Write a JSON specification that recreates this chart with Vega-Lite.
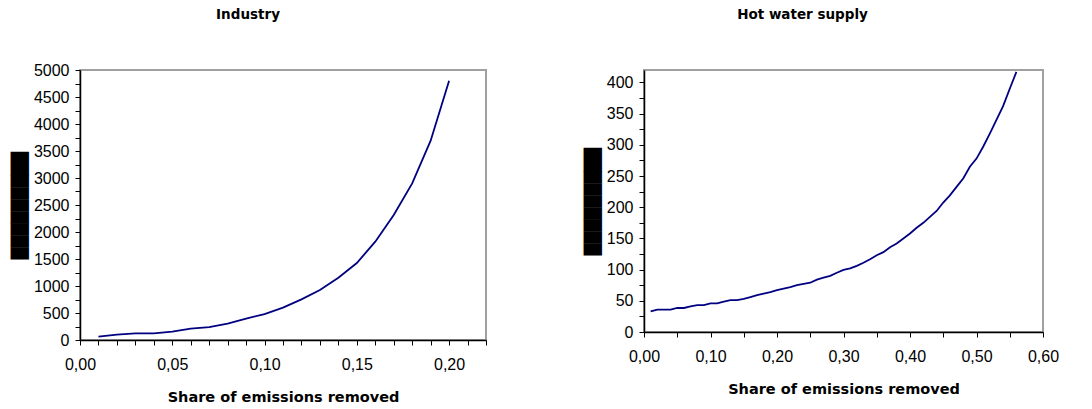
{
  "$schema": "https://vega.github.io/schema/vega-lite/v6.json",
  "padding": {"left": 11, "top": 6, "right": 0, "bottom": 0},
  "background": "white",
  "config": {
    "view": {"stroke": "#a0a0a0", "strokeWidth": 2},
    "axis": {"labelFont": "Liberation Sans", "labelFontSize": 16, "labelColor": "black", "domainColor": "black", "domainWidth": 1.5, "tickColor": "black", "tickSize": 5, "tickWidth": 1, "grid": false, "labelOverlap": false, "titleColor": "black"},
    "axisX": {"labelFlush": false, "labelPadding": 11, "titleFont": "DejaVu Sans", "titleFontSize": 14.5, "titleFontWeight": "bold", "titlePadding": 18},
    "axisY": {"labelPadding": 6, "titleFont": "DejaVu Sans", "titleFontSize": 15.5, "titleFontWeight": "normal", "titlePadding": 6},
    "title": {"font": "DejaVu Sans", "fontSize": 13.5, "fontWeight": "bold", "color": "black"},
    "concat": {"spacing": 96}
  },
  "datasets": {
    "industry": [
      {"share": 0.01, "cost": 62},
      {"share": 0.02, "cost": 99},
      {"share": 0.03, "cost": 123},
      {"share": 0.04, "cost": 123},
      {"share": 0.05, "cost": 154},
      {"share": 0.06, "cost": 210},
      {"share": 0.07, "cost": 240},
      {"share": 0.08, "cost": 302},
      {"share": 0.09, "cost": 395},
      {"share": 0.10, "cost": 481},
      {"share": 0.11, "cost": 599},
      {"share": 0.12, "cost": 753},
      {"share": 0.13, "cost": 926},
      {"share": 0.14, "cost": 1154},
      {"share": 0.15, "cost": 1425},
      {"share": 0.16, "cost": 1821},
      {"share": 0.17, "cost": 2315},
      {"share": 0.18, "cost": 2900},
      {"share": 0.19, "cost": 3691},
      {"share": 0.20, "cost": 4800}
    ],
    "hotwater": [
      {"share": 0.01, "cost": 33},
      {"share": 0.02, "cost": 36},
      {"share": 0.03, "cost": 36},
      {"share": 0.04, "cost": 36},
      {"share": 0.05, "cost": 38.5},
      {"share": 0.06, "cost": 38.5},
      {"share": 0.07, "cost": 41},
      {"share": 0.08, "cost": 43},
      {"share": 0.09, "cost": 43},
      {"share": 0.10, "cost": 46},
      {"share": 0.11, "cost": 46},
      {"share": 0.12, "cost": 48.7},
      {"share": 0.13, "cost": 51},
      {"share": 0.14, "cost": 51},
      {"share": 0.15, "cost": 53},
      {"share": 0.16, "cost": 56},
      {"share": 0.17, "cost": 59},
      {"share": 0.18, "cost": 61.5},
      {"share": 0.19, "cost": 64},
      {"share": 0.20, "cost": 67},
      {"share": 0.21, "cost": 69.5},
      {"share": 0.22, "cost": 72},
      {"share": 0.23, "cost": 75},
      {"share": 0.24, "cost": 77},
      {"share": 0.25, "cost": 79},
      {"share": 0.26, "cost": 84},
      {"share": 0.27, "cost": 87},
      {"share": 0.28, "cost": 90},
      {"share": 0.29, "cost": 95},
      {"share": 0.30, "cost": 99.5},
      {"share": 0.31, "cost": 102},
      {"share": 0.32, "cost": 106},
      {"share": 0.33, "cost": 111},
      {"share": 0.34, "cost": 116.5},
      {"share": 0.35, "cost": 123},
      {"share": 0.36, "cost": 128},
      {"share": 0.37, "cost": 136},
      {"share": 0.38, "cost": 142},
      {"share": 0.39, "cost": 150},
      {"share": 0.40, "cost": 158},
      {"share": 0.41, "cost": 167},
      {"share": 0.42, "cost": 175},
      {"share": 0.43, "cost": 184.5},
      {"share": 0.44, "cost": 194},
      {"share": 0.45, "cost": 207.5},
      {"share": 0.46, "cost": 219},
      {"share": 0.47, "cost": 232.6},
      {"share": 0.48, "cost": 246},
      {"share": 0.49, "cost": 265},
      {"share": 0.50, "cost": 278},
      {"share": 0.51, "cost": 297},
      {"share": 0.52, "cost": 318},
      {"share": 0.53, "cost": 340},
      {"share": 0.54, "cost": 362},
      {"share": 0.55, "cost": 390},
      {"share": 0.56, "cost": 417}
    ]
  },
  "hconcat": [
    {
      "title": {"text": "Industry", "dx": -35, "offset": 40.5},
      "width": 406,
      "height": 270,
      "data": {"name": "industry"},
      "mark": {"type": "line", "color": "#000080", "strokeWidth": 1.8},
      "encoding": {
        "x": {"field": "share", "type": "quantitative",
          "scale": {"domain": [0, 0.22], "nice": false},
          "axis": {"title": "Share of emissions removed",
            "values": [0, 0.01, 0.02, 0.03, 0.04, 0.05, 0.06, 0.07, 0.08, 0.09, 0.1, 0.11, 0.12, 0.13, 0.14, 0.15, 0.16, 0.17, 0.18, 0.19, 0.2, 0.21, 0.22],
            "labelExpr": "round(datum.value*100) % 5 == 0 ? replace(format(datum.value, '.2f'), '.', ',') : ''"}},
        "y": {"field": "cost", "type": "quantitative",
          "scale": {"domain": [0, 5000], "nice": false},
          "axis": {"title": "█████████",
            "values": [0, 250, 500, 750, 1000, 1250, 1500, 1750, 2000, 2250, 2500, 2750, 3000, 3250, 3500, 3750, 4000, 4250, 4500, 4750, 5000],
            "labelExpr": "datum.value % 500 == 0 ? format(datum.value, 'd') : ''"}}
      }
    },
    {
      "title": {"text": "Hot water supply", "dx": -41, "offset": 47},
      "width": 399,
      "height": 262,
      "data": {"name": "hotwater"},
      "mark": {"type": "line", "color": "#000080", "strokeWidth": 1.8},
      "encoding": {
        "x": {"field": "share", "type": "quantitative",
          "scale": {"domain": [0, 0.6], "nice": false},
          "axis": {"title": "Share of emissions removed",
            "values": [0, 0.05, 0.1, 0.15, 0.2, 0.25, 0.3, 0.35, 0.4, 0.45, 0.5, 0.55, 0.6],
            "labelExpr": "round(datum.value*100) % 10 == 0 ? replace(format(datum.value, '.2f'), '.', ',') : ''"}},
        "y": {"field": "cost", "type": "quantitative",
          "scale": {"domain": [0, 420], "nice": false},
          "axis": {"title": "█████████",
            "values": [0, 25, 50, 75, 100, 125, 150, 175, 200, 225, 250, 275, 300, 325, 350, 375, 400],
            "labelExpr": "datum.value % 50 == 0 ? format(datum.value, 'd') : ''"}}
      }
    }
  ]
}
